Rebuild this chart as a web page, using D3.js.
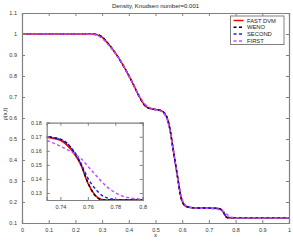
<!DOCTYPE html>
<html>
<head>
<meta charset="utf-8">
<script src="https://cdn.jsdelivr.net/npm/d3@7"></script>
<style>
  body { margin: 0; background: #fff; }
  svg { display: block; font-family: "Liberation Sans", Arial, sans-serif; }
  .axis path, .axis line { stroke: #808080; }
  .axis text { fill: #333; font-size: 5.5px; }
</style>
</head>
<body>
<div id="container"></div>
<script>
"use strict"

const width = 293;
const height = 241;
const margin = {left: 22, right: 4, top: 13, bottom: 18};
const inset = {left: 46.7, right: 142.7, top: 122.7, bottom: 200};

// shared x grid (denser around the inset region)
const xs = [0, 0.1, 0.2, 0.26, 0.28, 0.30, 0.32, 0.34, 0.36, 0.38, 0.40, 0.42, 0.44, 0.46, 0.48, 0.50, 0.52,
    0.535, 0.545, 0.555, 0.565, 0.575, 0.585, 0.595, 0.605, 0.615, 0.63, 0.65, 0.70, 0.73, 0.735, 0.74, 0.745,
    0.75, 0.755, 0.76, 0.765, 0.77, 0.775, 0.78, 0.785, 0.79, 0.795, 0.8, 0.85, 0.9, 1.0];

const fastDvm = [1, 1, 1, 1, 0.997, 0.985, 0.958, 0.926, 0.89, 0.848, 0.802, 0.752, 0.70, 0.66, 0.645, 0.64, 0.636,
    0.62, 0.595, 0.54, 0.46, 0.38, 0.30, 0.225, 0.19, 0.179, 0.174, 0.172, 0.1705, 0.1695, 0.1688, 0.1675, 0.1638,
    0.158, 0.1498, 0.137, 0.1288, 0.1254, 0.1250, 0.125, 0.125, 0.125, 0.125, 0.125, 0.125, 0.125, 0.125];

const weno = [1, 1, 1, 1, 0.998, 0.986, 0.958, 0.926, 0.89, 0.848, 0.802, 0.752, 0.70, 0.659, 0.645, 0.64, 0.636,
    0.622, 0.597, 0.54, 0.46, 0.38, 0.30, 0.222, 0.189, 0.178, 0.174, 0.172, 0.1708, 0.1702, 0.1695, 0.1682, 0.1652,
    0.159, 0.1505, 0.1375, 0.1285, 0.1252, 0.125, 0.125, 0.125, 0.125, 0.125, 0.125, 0.125, 0.125, 0.125];

const second = [1, 1, 1, 1, 0.996, 0.983, 0.957, 0.926, 0.89, 0.848, 0.802, 0.752, 0.701, 0.662, 0.646, 0.64, 0.635,
    0.619, 0.592, 0.538, 0.46, 0.38, 0.30, 0.228, 0.193, 0.180, 0.174, 0.172, 0.1706, 0.1700, 0.1692, 0.1680, 0.1650,
    0.1595, 0.151, 0.1405, 0.1335, 0.1285, 0.1262, 0.1253, 0.125, 0.125, 0.125, 0.125, 0.125, 0.125, 0.125];

const first = [1, 1, 1, 0.999, 0.994, 0.979, 0.954, 0.924, 0.889, 0.848, 0.802, 0.753, 0.703, 0.667, 0.648, 0.64, 0.633,
    0.615, 0.588, 0.535, 0.46, 0.38, 0.30, 0.232, 0.197, 0.182, 0.175, 0.172, 0.1695, 0.1672, 0.1655, 0.1632, 0.1608,
    0.158, 0.1545, 0.149, 0.1435, 0.1382, 0.1335, 0.1302, 0.1278, 0.1266, 0.1259, 0.1255, 0.1251, 0.125, 0.125];

const seriesNames = ["FAST DVM", "WENO", "SECOND", "FIRST"];
const seriesValues = [fastDvm, weno, second, first];
const seriesColors = ["#ff0000", "#000000", "#1a1aff", "#c84bff"];
const seriesDash = [null, "3,2.5", "3,2.5", "3,2.5"];

const xTicks = [0, 0.1, 0.2, 0.3, 0.4, 0.5, 0.6, 0.7, 0.8, 0.9, 1];
const yTicks = [0.1, 0.2, 0.3, 0.4, 0.5, 0.6, 0.7, 0.8, 0.9, 1, 1.1];
const insetXTicks = [0.74, 0.76, 0.78, 0.8];
const insetYTicks = [0.13, 0.14, 0.15, 0.16, 0.17, 0.18];

const titleText = "Density, Knudsen number=0.001";
const yLabelText = "\u03c1(x,t)";

const svg = d3.select("#container").append("svg")
    .attr("width", width)
    .attr("height", height);

const x = d3.scaleLinear().domain([0, 1]).range([margin.left, width - margin.right]);
const y = d3.scaleLinear().domain([0.1, 1.1]).range([height - margin.bottom, margin.top]);

const fmt = d => String(+d.toFixed(2));

function DrawBox(xs_, ys_, xT, yT, g)
{
    const [x0, x1] = xs_.range();
    const [y0, y1] = ys_.range();
    g.append("g").attr("class", "axis").attr("transform", `translate(0,${y0})`)
        .call(d3.axisBottom(xs_).tickValues(xT).tickSize(-3).tickPadding(5).tickFormat(fmt));
    g.append("g").attr("class", "axis").attr("transform", `translate(0,${y1})`)
        .call(d3.axisTop(xs_).tickValues(xT).tickSize(-3).tickFormat(() => ""));
    g.append("g").attr("class", "axis").attr("transform", `translate(${x0},0)`)
        .call(d3.axisLeft(ys_).tickValues(yT).tickSize(-3).tickPadding(5).tickFormat(fmt));
    g.append("g").attr("class", "axis").attr("transform", `translate(${x1},0)`)
        .call(d3.axisRight(ys_).tickValues(yT).tickSize(-3).tickFormat(() => ""));
    g.selectAll(".axis path").attr("stroke-width", 1.2);
}

function DrawLines(xs_, ys_, g, widthLine)
{
    seriesValues.forEach((vals, i) => {
        const line = d3.line()
            .x((d, j) => xs_(xs[j]))
            .y(d => ys_(d))
            .curve(d3.curveMonotoneX);
        g.append("path")
            .attr("d", line(vals))
            .attr("fill", "none")
            .attr("stroke", seriesColors[i])
            .attr("stroke-width", widthLine)
            .attr("stroke-dasharray", seriesDash[i]);
    });
}

// main axes
const main = svg.append("g");
main.append("rect")
    .attr("x", x(0)).attr("y", y(1.1))
    .attr("width", x(1) - x(0)).attr("height", y(0.1) - y(1.1))
    .attr("fill", "#fff");
DrawLines(x, y, main, 1.5);
DrawBox(x, y, xTicks, yTicks, main);

// title and labels
svg.append("text")
    .attr("x", (x(0) + x(1)) / 2).attr("y", 7.5)
    .attr("text-anchor", "middle").attr("font-size", 6).attr("fill", "#222")
    .text(titleText);
svg.append("text")
    .attr("x", (x(0) + x(1)) / 2).attr("y", 237)
    .attr("text-anchor", "middle").attr("font-size", 6).attr("fill", "#222")
    .text("x");
svg.append("text")
    .attr("transform", "rotate(-90)")
    .attr("x", -114).attr("y", 6.5)
    .attr("text-anchor", "middle").attr("font-size", 5.5).attr("fill", "#222")
    .text(yLabelText);

// inset
const xi = d3.scaleLinear().domain([0.73, 0.8]).range([inset.left, inset.right]);
const yi = d3.scaleLinear().domain([0.125, 0.18]).range([inset.bottom, inset.top]);
const ins = svg.append("g");
ins.append("rect")
    .attr("x", inset.left).attr("y", inset.top)
    .attr("width", inset.right - inset.left).attr("height", inset.bottom - inset.top)
    .attr("fill", "#fff");
svg.append("clipPath").attr("id", "insetClip").append("rect")
    .attr("x", inset.left).attr("y", inset.top)
    .attr("width", inset.right - inset.left).attr("height", inset.bottom - inset.top);
const insLines = ins.append("g").attr("clip-path", "url(#insetClip)");
DrawLines(xi, yi, insLines, 1.5);
DrawBox(xi, yi, insetXTicks, insetYTicks, ins);

// legend
const legend = svg.append("g").attr("transform", "translate(230.5,16)");
legend.append("rect")
    .attr("width", 53.5).attr("height", 28.5)
    .attr("fill", "#fff").attr("stroke", "#808080").attr("stroke-width", 1);
seriesNames.forEach((name, i) => {
    const yy = 4.5 + i * 6.8;
    legend.append("line")
        .attr("x1", 3).attr("x2", 13).attr("y1", yy).attr("y2", yy)
        .attr("stroke", seriesColors[i]).attr("stroke-width", 1.5)
        .attr("stroke-dasharray", seriesDash[i]);
    legend.append("text")
        .attr("x", 16.5).attr("y", yy + 2)
        .attr("font-size", 5.8).attr("fill", "#222")
        .text(name);
});
</script>
</body>
</html>
